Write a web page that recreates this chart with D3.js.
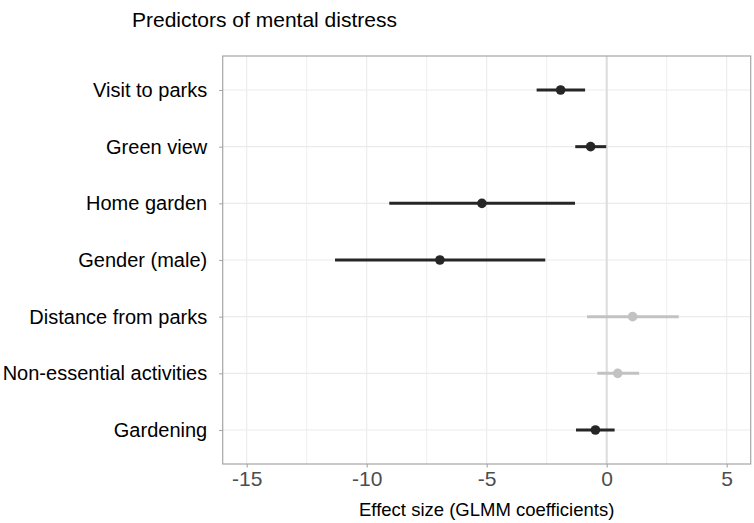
<!DOCTYPE html>
<html>
<head>
<meta charset="utf-8">
<script src="https://cdn.jsdelivr.net/npm/d3@7"></script>
<style>
  html, body { margin: 0; padding: 0; background: #fff; }
  svg { display: block; font-family: "Liberation Sans", Arial, Helvetica, sans-serif; }
</style>
</head>
<body>
<svg id="chart" width="754" height="523"></svg>
<script>
// ---- data ----
const predictors = ["Visit to parks", "Green view", "Home garden", "Gender (male)",
                    "Distance from parks", "Non-essential activities", "Gardening"];
const estimates  = [-1.92, -0.67, -5.20, -6.95, 1.08, 0.46, -0.47];
const lowerCI    = [-2.92, -1.31, -9.06, -11.32, -0.82, -0.39, -1.28];
const upperCI    = [-0.90, -0.02, -1.32, -2.56, 3.00, 1.35, 0.33];
const significant = [true, true, true, true, false, false, true];
const xTicks = [-15, -10, -5, 0, 5];
const xMinor = [-12.5, -7.5, -2.5, 2.5];
const titleText = "Predictors of mental distress";
const xTitle = "Effect size (GLMM coefficients)";

const rows = predictors.map((p, i) => ({
  name: p, est: estimates[i], lo: lowerCI[i], hi: upperCI[i], sig: significant[i]
}));

// ---- layout ----
const W = 754, H = 523;
const margin = { left: 222.7, right: 3.3, top: 56, bottom: 59 };
const pw = W - margin.left - margin.right;
const ph = H - margin.top - margin.bottom;

const svg = d3.select("#chart");
const g = svg.append("g").attr("transform", `translate(${margin.left},${margin.top})`);

const x = d3.scaleLinear().domain([-16, 6]).range([0, pw]);
const y = d3.scalePoint().domain(predictors).range([0, ph]).padding(0.6);

// grid
g.selectAll(".minor").data(xMinor).join("line")
  .attr("x1", d => x(d)).attr("x2", d => x(d)).attr("y1", 0).attr("y2", ph)
  .attr("stroke", "#ededed").attr("stroke-width", 0.9);
g.selectAll(".majorx").data(xTicks).join("line")
  .attr("x1", d => x(d)).attr("x2", d => x(d)).attr("y1", 0).attr("y2", ph)
  .attr("stroke", "#ebebeb").attr("stroke-width", 1.1);
g.selectAll(".majory").data(predictors).join("line")
  .attr("x1", 0).attr("x2", pw).attr("y1", d => y(d)).attr("y2", d => y(d))
  .attr("stroke", "#ebebeb").attr("stroke-width", 1.1);

// zero reference line
g.append("line")
  .attr("x1", x(0)).attr("x2", x(0)).attr("y1", 0).attr("y2", ph)
  .attr("stroke", "#dcdcdc").attr("stroke-width", 2);

// CIs and points
const dark = "#262626", light = "#c2c2c2";
g.selectAll(".ci").data(rows).join("line")
  .attr("x1", d => x(d.lo)).attr("x2", d => x(d.hi))
  .attr("y1", d => y(d.name)).attr("y2", d => y(d.name))
  .attr("stroke", d => d.sig ? dark : light).attr("stroke-width", 3);
g.selectAll(".pt").data(rows).join("circle")
  .attr("cx", d => x(d.est)).attr("cy", d => y(d.name)).attr("r", 4.8)
  .attr("fill", d => d.sig ? dark : light);

// panel border
g.append("rect").attr("x", 0).attr("y", 0).attr("width", pw).attr("height", ph)
  .attr("fill", "none").attr("stroke", "#a6a6a6").attr("stroke-width", 1.2);

// x axis
const xAxis = g.append("g").attr("transform", `translate(0,${ph})`)
  .call(d3.axisBottom(x).tickValues(xTicks).tickSize(3.5).tickPadding(4).tickFormat(d => d));
xAxis.select(".domain").remove();
xAxis.selectAll("line").attr("stroke", "#a6a6a6").attr("stroke-width", 1.1);
xAxis.selectAll("text").attr("fill", "#4d4d4d").style("font-size", "21px")
  .text(d => d < 0 ? "-" + Math.abs(d) : d);

// y axis
const yAxis = g.append("g")
  .call(d3.axisLeft(y).tickSize(3.5).tickPadding(12));
yAxis.select(".domain").remove();
yAxis.selectAll("line").attr("stroke", "#a6a6a6").attr("stroke-width", 1.1);
yAxis.selectAll("text").attr("fill", "#000").style("font-size", "20px");

// titles
svg.append("text").attr("x", margin.left + pw / 2).attr("y", 516)
  .attr("text-anchor", "middle").style("font-size", "18.5px").attr("fill", "#000")
  .text(xTitle);
svg.append("text").attr("x", 132).attr("y", 27)
  .style("font-size", "21px").attr("fill", "#000")
  .text(titleText);
</script>
</body>
</html>
